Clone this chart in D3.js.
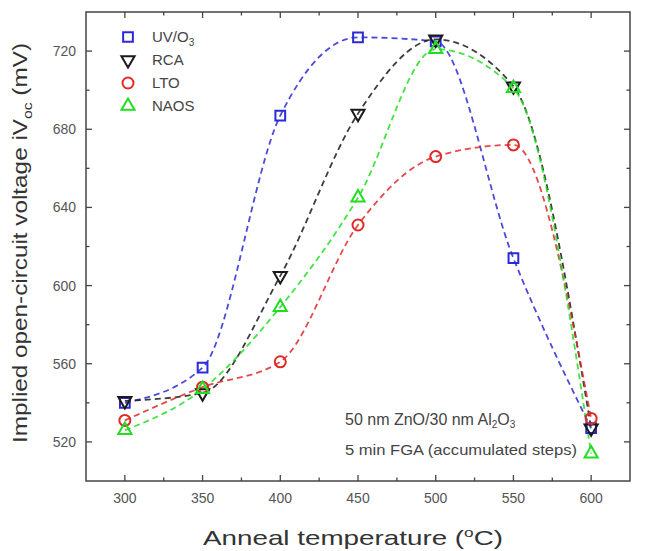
<!DOCTYPE html>
<html>
<head>
<meta charset="utf-8">
<script src="https://cdn.jsdelivr.net/npm/d3@7"></script>
<style>
  html, body { margin: 0; padding: 0; background: #fff; }
  svg { display: block; font-family: Arial, "Liberation Sans", Helvetica, sans-serif; }
</style>
</head>
<body>
<svg id="chart" width="667" height="551"></svg>
<script>
// Anneal temperatures (°C) and implied Voc (mV) for each surface treatment
const temps = [300, 350, 400, 450, 500, 550, 600];
const uvo3  = [540, 558, 687, 727, 725, 614, 527];
const rca   = [541, 545, 605, 688, 726, 702, 527];
const lto   = [531, 548, 561, 631, 666, 672, 532];
const naos  = [526, 547, 589, 645, 721, 701, 514];

const xTicks = [300, 350, 400, 450, 500, 550, 600];
const yTicks = [520, 560, 600, 640, 680, 720];

const series = [
  { name: "UV/O", sub: "3", values: uvo3, color: "#2a2ad8", symbol: "square" },
  { name: "RCA",  sub: "",  values: rca,  color: "#1a1a1a", symbol: "down" },
  { name: "LTO",  sub: "",  values: lto,  color: "#e02a2a", symbol: "circle" },
  { name: "NAOS", sub: "",  values: naos, color: "#22dd22", symbol: "up" }
];

const svg = d3.select("#chart");
const frame = { left: 86, right: 630, top: 12, bottom: 481 };

const x = d3.scaleLinear().domain([275, 625]).range([frame.left, frame.right]);
const y = d3.scaleLinear().domain([500, 740]).range([frame.bottom, frame.top]);

const axisColor = "#444";
const labelColor = "#555";

// Plot frame
svg.append("rect")
  .attr("x", frame.left).attr("y", frame.top)
  .attr("width", frame.right - frame.left)
  .attr("height", frame.bottom - frame.top)
  .attr("fill", "none").attr("stroke", axisColor).attr("stroke-width", 1.5);

// Inward ticks on all four sides (major + minor)
const xMinor = d3.range(325, 600, 50);
const yMinor = d3.range(540, 740, 40);

function ticksX(values, len) {
  svg.append("g").selectAll("line.b").data(values).join("line")
    .attr("x1", d => x(d)).attr("x2", d => x(d))
    .attr("y1", frame.bottom).attr("y2", frame.bottom - len)
    .attr("stroke", axisColor).attr("stroke-width", 1.3);
  svg.append("g").selectAll("line.t").data(values).join("line")
    .attr("x1", d => x(d)).attr("x2", d => x(d))
    .attr("y1", frame.top).attr("y2", frame.top + len)
    .attr("stroke", axisColor).attr("stroke-width", 1.3);
}
function ticksY(values, len) {
  svg.append("g").selectAll("line.l").data(values).join("line")
    .attr("x1", frame.left).attr("x2", frame.left + len)
    .attr("y1", d => y(d)).attr("y2", d => y(d))
    .attr("stroke", axisColor).attr("stroke-width", 1.3);
  svg.append("g").selectAll("line.r").data(values).join("line")
    .attr("x1", frame.right).attr("x2", frame.right - len)
    .attr("y1", d => y(d)).attr("y2", d => y(d))
    .attr("stroke", axisColor).attr("stroke-width", 1.3);
}
ticksX(xTicks, 6); ticksX(xMinor, 3.5);
ticksY(yTicks, 6); ticksY(yMinor, 3.5);

// Tick labels
svg.append("g").selectAll("text").data(xTicks).join("text")
  .attr("x", d => x(d)).attr("y", 503)
  .attr("text-anchor", "middle").attr("font-size", 14).attr("fill", labelColor)
  .text(d => d);
svg.append("g").selectAll("text").data(yTicks).join("text")
  .attr("x", 76).attr("y", d => y(d) + 5)
  .attr("text-anchor", "end").attr("font-size", 14).attr("fill", labelColor)
  .text(d => d);

// Axis titles
const xt = svg.append("text")
  .attr("x", 353).attr("y", 545)
  .attr("text-anchor", "middle").attr("font-size", 21).attr("fill", "#333")
  .attr("textLength", 300).attr("lengthAdjust", "spacingAndGlyphs");
xt.append("tspan").text("Anneal temperature (");
xt.append("tspan").attr("font-size", 13).attr("dy", -8).text("o");
xt.append("tspan").attr("dy", 8).text("C)");

const yt = svg.append("text")
  .attr("transform", "translate(27, 243) rotate(-90)")
  .attr("text-anchor", "middle").attr("font-size", 20).attr("fill", "#333")
  .attr("textLength", 400).attr("lengthAdjust", "spacingAndGlyphs");
yt.append("tspan").text("Implied open-circuit voltage iV");
yt.append("tspan").attr("font-size", 13).attr("dy", 5).text("oc");
yt.append("tspan").attr("dy", -5).text(" (mV)");

// Dashed curves through the measured points
const line = d3.line()
  .x((d, i) => x(temps[i]))
  .y(d => y(d))
  .curve(d3.curveMonotoneX);

svg.append("g").selectAll("path").data(series).join("path")
  .attr("d", s => line(s.values))
  .attr("fill", "none")
  .attr("stroke", s => s.color)
  .attr("stroke-opacity", 0.85)
  .attr("stroke-width", 1.8)
  .attr("stroke-dasharray", "6,4");

// Marker shapes
function symbolPath(kind) {
  if (kind === "square") return d3.symbol(d3.symbolSquare, 95)();
  if (kind === "circle") return d3.symbol(d3.symbolCircle, 95)();
  return d3.symbol(d3.symbolTriangle, 75)();
}
function symbolTransform(kind, px, py) {
  if (kind === "down") return `translate(${px},${py}) rotate(180)`;
  return `translate(${px},${py})`;
}

series.forEach(s => {
  svg.append("g").selectAll("path").data(s.values).join("path")
    .attr("d", symbolPath(s.symbol))
    .attr("transform", (d, i) => symbolTransform(s.symbol, x(temps[i]), y(d)))
    .attr("fill", "none")
    .attr("stroke", s.color)
    .attr("stroke-width", 2);
});

// Legend
const legendRows = [37, 60, 83, 106];
series.forEach((s, i) => {
  const ly = legendRows[i];
  svg.append("path")
    .attr("d", symbolPath(s.symbol))
    .attr("transform", symbolTransform(s.symbol, 128, ly))
    .attr("fill", "none").attr("stroke", s.color).attr("stroke-width", 2);
  const t = svg.append("text")
    .attr("x", 152).attr("y", ly + 5)
    .attr("font-size", 15).attr("fill", "#444");
  t.append("tspan").text(s.name);
  if (s.sub) t.append("tspan").attr("font-size", 10).attr("dy", 4).text(s.sub);
});

// Sample description
const note1 = svg.append("text")
  .attr("x", 345).attr("y", 425).attr("font-size", 16).attr("fill", "#444");
note1.append("tspan").text("50 nm ZnO/30 nm Al");
note1.append("tspan").attr("font-size", 10).attr("dy", 3).text("2");
note1.append("tspan").attr("dy", -3).text("O");
note1.append("tspan").attr("font-size", 10).attr("dy", 3).text("3");

svg.append("text")
  .attr("x", 345).attr("y", 455).attr("font-size", 15).attr("fill", "#444")
  .attr("textLength", 232).attr("lengthAdjust", "spacingAndGlyphs")
  .text("5 min FGA (accumulated steps)");
</script>
</body>
</html>
